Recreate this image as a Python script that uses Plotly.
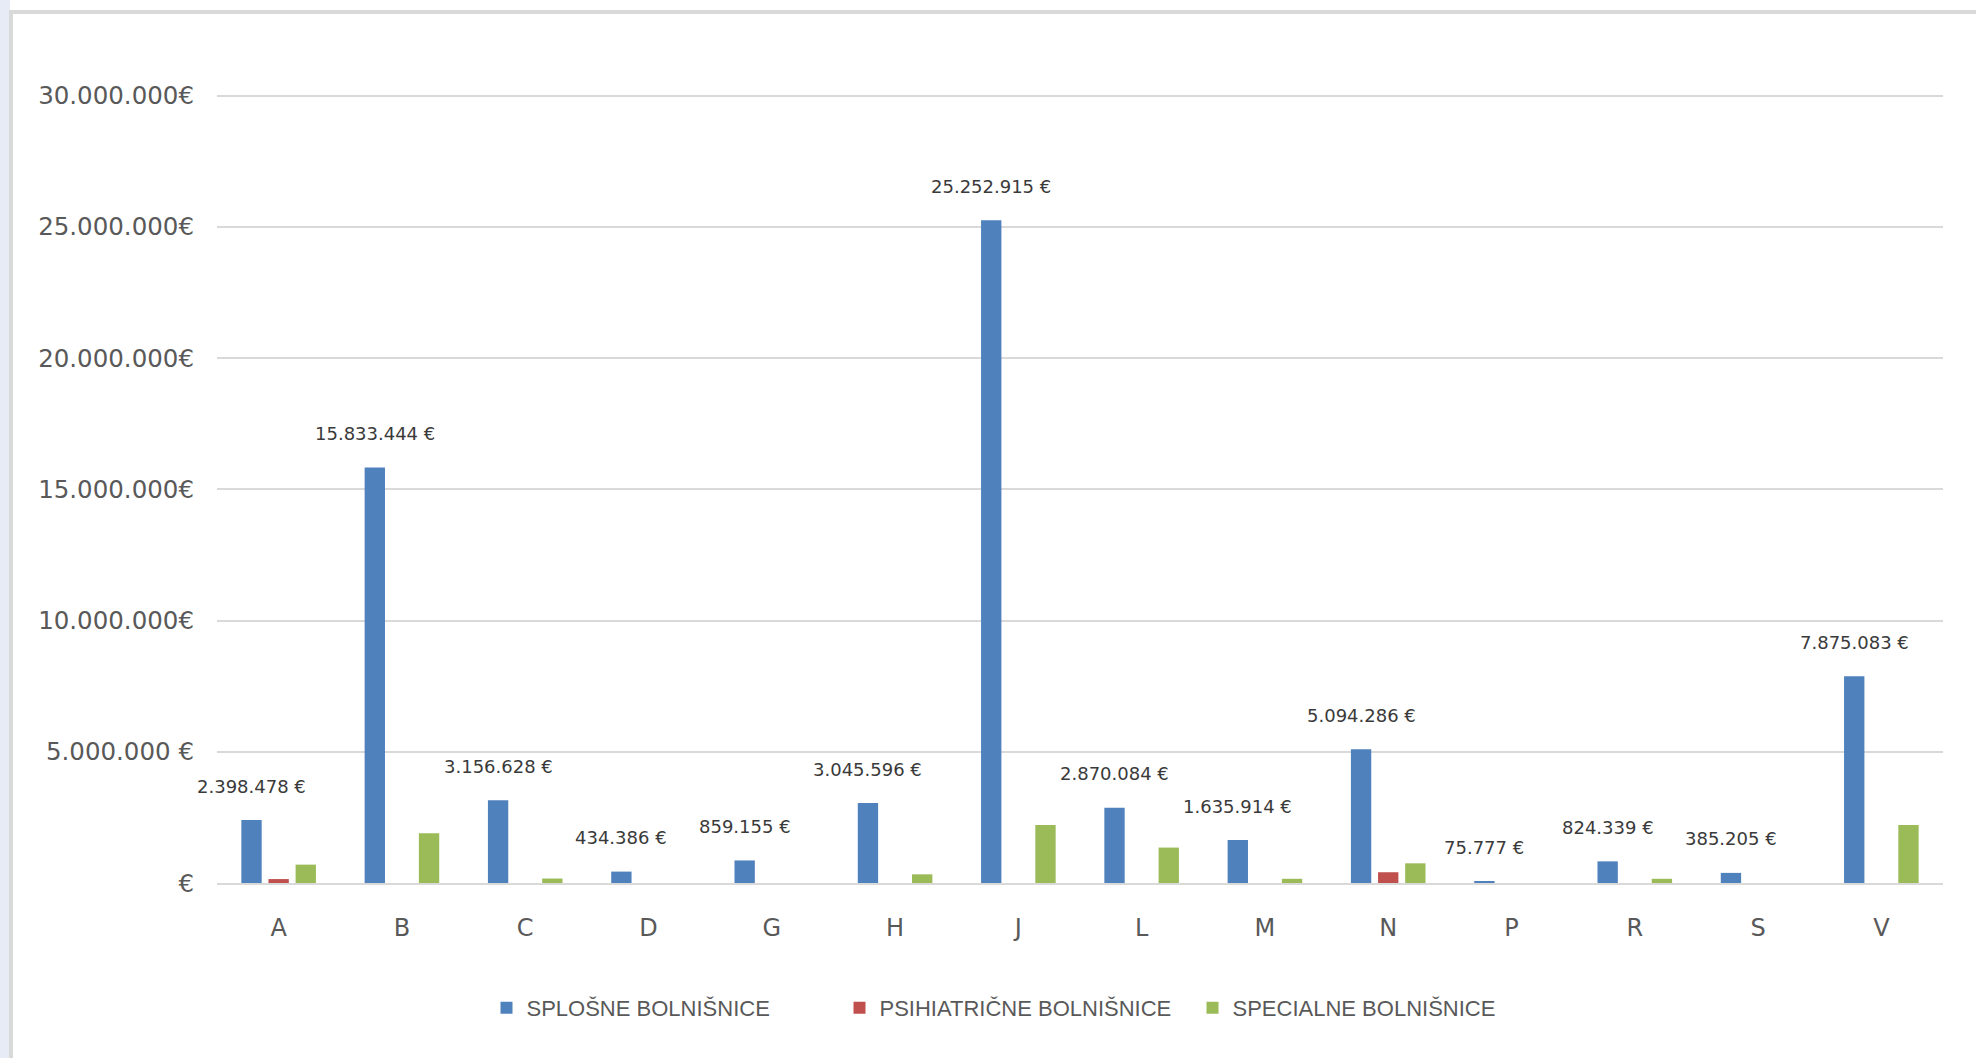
import plotly.graph_objects as go

categories = ["A", "B", "C", "D", "G", "H", "J", "L", "M", "N", "P", "R", "S", "V"]
splosne = [2398478, 15833444, 3156628, 434386, 859155, 3045596, 25252915,
           2870084, 1635914, 5094286, 75777, 824339, 385205, 7875083]
psihiatricne = [150000, 0, 0, 0, 0, 0, 0, 0, 0, 410000, 0, 0, 0, 0]
specialne = [700000, 1900000, 170000, 0, 0, 330000, 2210000,
             1350000, 160000, 750000, 0, 160000, 0, 2210000]
series_names = ["SPLOŠNE BOLNIŠNICE", "PSIHIATRIČNE BOLNIŠNICE", "SPECIALNE BOLNIŠNICE"]
series_colors = ["#4F81BD", "#C0504D", "#9BBB59"]
y_tickvals = [0, 5000000, 10000000, 15000000, 20000000, 25000000, 30000000]
y_ticktext = ["€", "5.000.000 €", "10.000.000€", "15.000.000€", "20.000.000€",
              "25.000.000€", "30.000.000€"]
y_max = 30060000


def fmt_eur(v):
    return f"{v:,}".replace(",", ".") + " €"


W, H = 1976, 1058
L, R, T, B = 217, 33, 94, 175
plot_w = W - L - R
plot_h = H - T - B
bargap = 0.34
cat_w = plot_w / len(categories)
slot = (1 - bargap) / 3 * cat_w


def px_x(px):
    return (px - L) / plot_w


def px_y(py):
    return (H - B - py) / plot_h


fig = go.Figure()
for name, vals, col in zip(series_names, [splosne, psihiatricne, specialne], series_colors):
    fig.add_trace(go.Bar(x=categories, y=vals, name=name, marker_color=col,
                         marker_line_width=0, hoverinfo="skip"))

annotations = []
for c, v in zip(categories, splosne):
    annotations.append(dict(x=c, y=v, xref="x", yref="y", text=fmt_eur(v),
                            showarrow=False, xshift=-slot, yshift=34,
                            yanchor="middle", xanchor="center",
                            font=dict(family="DejaVu Sans", size=18, color="#3a3a3a")))

shapes = [
    # left strip
    dict(type="rect", xref="paper", yref="paper", x0=px_x(-5), x1=px_x(10),
         y0=px_y(H + 20), y1=px_y(-20), fillcolor="#e6ebf5", line_width=0, layer="below"),
    # chart frame
    dict(type="rect", xref="paper", yref="paper", x0=px_x(11), x1=px_x(W + 20),
         y0=px_y(H + 20), y1=px_y(12), fillcolor="white",
         line=dict(color="#d9d9d9", width=4), layer="below"),
]

fig.update_layout(
    width=W, height=H,
    margin=dict(l=L, r=R, t=T, b=B, autoexpand=False),
    paper_bgcolor="white", plot_bgcolor="rgba(0,0,0,0)",
    barmode="group", bargap=bargap, bargroupgap=0.25,
    showlegend=True,
    legend=dict(orientation="h", x=px_x(1016), xanchor="center",
                y=px_y(1008), yanchor="middle",
                entrywidth=308, entrywidthmode="pixels",
                font=dict(family="Liberation Sans", size=22, color="#595959"),
                bgcolor="rgba(0,0,0,0)"),
    annotations=annotations,
    shapes=shapes,
    xaxis=dict(type="category", range=[-0.5, len(categories) - 0.5],
               showgrid=False, showline=True, linecolor="#d9d9d9",
               linewidth=2, ticks="", ticklabelstandoff=22,
               tickfont=dict(family="DejaVu Sans", size=24, color="#595959"),
               fixedrange=True),
    yaxis=dict(range=[0, y_max], tickvals=y_tickvals, ticktext=y_ticktext,
               showgrid=True, gridcolor="#d9d9d9", gridwidth=2, zeroline=False,
               showline=False, ticks="", ticklabelstandoff=22,
               tickfont=dict(family="DejaVu Sans", size=24.5, color="#595959"),
               fixedrange=True),
)

fig.write_html("out.html", config={"displayModeBar": False},
               post_script="document.body.style.margin='0';document.body.style.overflow='hidden';")
